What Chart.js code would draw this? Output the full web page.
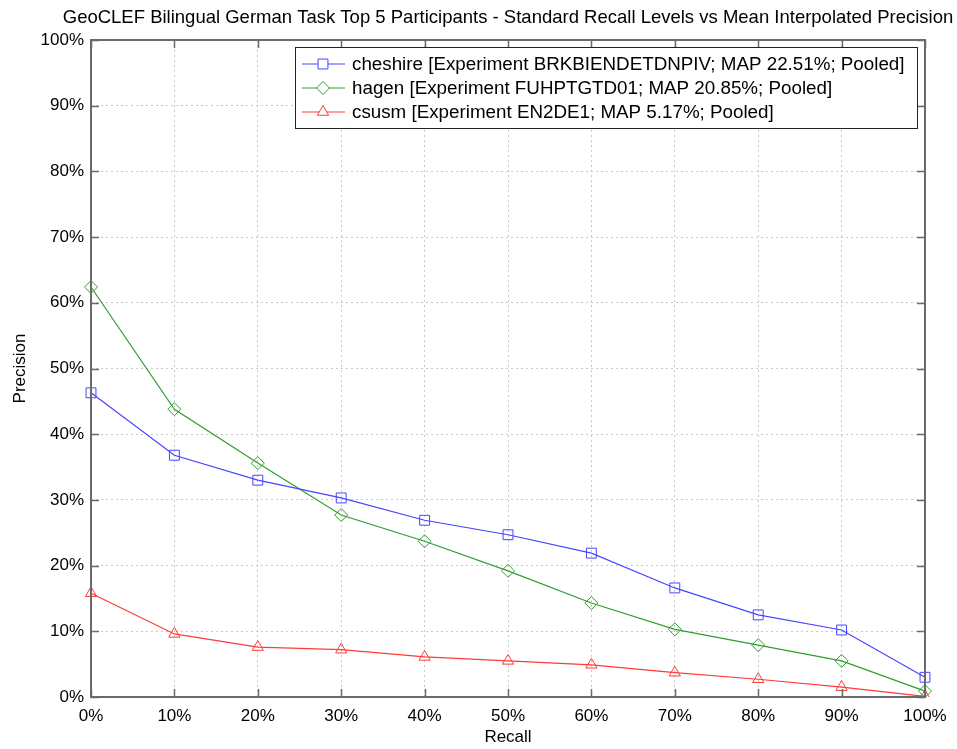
<!DOCTYPE html>
<html>
<head>
<meta charset="utf-8">
<script src="https://cdn.jsdelivr.net/npm/chart.js@4"></script>
<style>
  body { margin: 0; background: #fff; }
  #wrap { width: 957px; height: 749px; }
</style>
</head>
<body>
<div id="wrap"><canvas id="grafico" width="957" height="749"></canvas></div>
<script>
// datos
const recallLevels = ['0%', '10%', '20%', '30%', '40%', '50%', '60%', '70%', '80%', '90%', '100%'];
const seriesNames = [
    'cheshire [Experiment BRKBIENDETDNPIV; MAP 22.51%; Pooled]',
    'hagen [Experiment FUHPTGTD01; MAP 20.85%; Pooled]',
    'csusm [Experiment EN2DE1; MAP 5.17%; Pooled]'
];
const cheshire = [46.3, 36.8, 33.0, 30.3, 26.9, 24.7, 21.9, 16.6, 12.5, 10.2, 3.0];
const hagen = [62.4, 43.8, 35.6, 27.7, 23.7, 19.2, 14.3, 10.3, 7.9, 5.5, 0.9];
const csusm = [15.8, 9.6, 7.6, 7.2, 6.1, 5.5, 4.9, 3.7, 2.7, 1.5, 0.1];
const titulo = 'GeoCLEF Bilingual German Task Top 5 Participants - Standard Recall Levels vs Mean Interpolated Precision';

const fuente = "'Liberation Sans', Arial, sans-serif";

// titulo centrado sobre los ejes, marco, ticks hacia adentro y leyenda estilo matlab
const marcoPlugin = {
    id: 'marco',
    afterDatasetsDraw(chart) {
        const ctx = chart.ctx;
        const a = chart.chartArea;
        const xs = chart.scales.x;
        const ys = chart.scales.y;
        ctx.save();

        ctx.fillStyle = '#000';
        ctx.font = '18.5px ' + fuente;
        ctx.textAlign = 'center';
        ctx.textBaseline = 'middle';
        ctx.fillText(titulo, (a.left + a.right) / 2, 18);
        ctx.textAlign = 'left';

        ctx.strokeStyle = '#6a6a6a';
        ctx.lineWidth = 1.5;
        ctx.beginPath();
        xs.ticks.forEach((t, i) => {
            const px = Math.round(xs.getPixelForTick(i)) + 0.5;
            ctx.moveTo(px, a.bottom); ctx.lineTo(px, a.bottom - 8);
            ctx.moveTo(px, a.top); ctx.lineTo(px, a.top + 8);
        });
        ys.ticks.forEach((t, i) => {
            const py = Math.round(ys.getPixelForTick(i)) + 0.5;
            ctx.moveTo(a.left, py); ctx.lineTo(a.left + 8, py);
            ctx.moveTo(a.right, py); ctx.lineTo(a.right - 8, py);
        });
        ctx.stroke();
        ctx.lineWidth = 2;
        ctx.strokeRect(a.left, a.top, a.right - a.left, a.bottom - a.top);

        // leyenda
        const lx = 295, ly = 47, lw = 622, lh = 81;
        ctx.fillStyle = '#fff';
        ctx.fillRect(lx, ly, lw, lh);
        ctx.lineWidth = 1;
        ctx.strokeStyle = '#222';
        ctx.strokeRect(lx + 0.5, ly + 0.5, lw, lh);
        ctx.font = '18.8px ' + fuente;
        chart.data.datasets.forEach((ds, i) => {
            const y = ly + 17 + i * 24;
            ctx.strokeStyle = ds.borderColor;
            ctx.lineWidth = 1;
            ctx.beginPath();
            ctx.moveTo(302, y); ctx.lineTo(345, y);
            ctx.stroke();
            ctx.fillStyle = '#fff';
            Chart.helpers.drawPoint(ctx, {
                pointStyle: ds.pointStyle,
                radius: ds.pointRadius,
                borderWidth: 1,
                rotation: 0
            }, 323, y);
            ctx.fillStyle = '#000';
            ctx.fillText(ds.label, 352, y + 1);
        });
        ctx.restore();
    }
};

new Chart(document.getElementById('grafico'), {
    type: 'line',
    data: {
        labels: recallLevels,
        datasets: [
            {
                label: seriesNames[0],
                data: cheshire,
                borderColor: '#4646ff',
                pointStyle: 'rect',
                pointRadius: 7
            },
            {
                label: seriesNames[1],
                data: hagen,
                borderColor: '#2f9f2f',
                pointStyle: 'rectRot',
                pointRadius: 6.5
            },
            {
                label: seriesNames[2],
                data: csusm,
                borderColor: '#ff3a3a',
                pointStyle: 'triangle',
                pointRadius: 6.5
            }
        ].map(d => Object.assign(d, {
            backgroundColor: 'rgba(0,0,0,0)',
            borderWidth: 1.2,
            pointBorderWidth: 1,
            pointBorderColor: d.borderColor,
            pointBackgroundColor: 'rgba(0,0,0,0)',
            tension: 0,
            fill: false
        }))
    },
    options: {
        responsive: false,
        animation: false,
        layout: { padding: { left: 0, right: 32, top: 40, bottom: 0 } },
        plugins: {
            legend: { display: false },
            tooltip: { enabled: false },
            title: { display: false }
        },
        scales: {
            x: {
                type: 'category',
                offset: false,
                grid: { color: '#c8c8c8', drawTicks: false },
                border: { display: false, dash: [2, 3] },
                ticks: { color: '#000', padding: 9, maxRotation: 0, autoSkip: false, font: { family: fuente, size: 17 } },
                title: { display: true, text: 'Recall', color: '#000', font: { family: fuente, size: 17 }, padding: { top: 0, bottom: 1 } },
                afterFit: s => { s.height = 52; }
            },
            y: {
                min: 0,
                max: 100,
                grid: { color: '#c8c8c8', drawTicks: false },
                border: { display: false, dash: [2, 3] },
                ticks: { stepSize: 10, color: '#000', padding: 7, font: { family: fuente, size: 17 }, callback: v => v + '%' },
                title: { display: true, text: 'Precision', color: '#000', font: { family: fuente, size: 17 }, padding: { top: 10, bottom: 0 } },
                afterFit: s => { s.width = 91; }
            }
        }
    },
    plugins: [marcoPlugin]
});
</script>
</body>
</html>
